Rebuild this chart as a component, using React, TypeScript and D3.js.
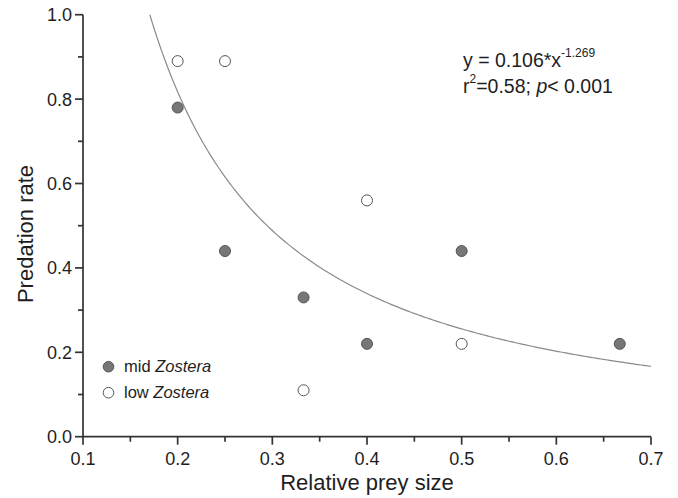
import React, { useRef, useEffect } from 'react';
import * as d3 from 'd3';

// mid Zostera (filled grey)
const midX = [0.2, 0.25, 0.333, 0.4, 0.5, 0.667];
const midY = [0.78, 0.44, 0.33, 0.22, 0.44, 0.22];
// low Zostera (open)
const lowX = [0.2, 0.25, 0.333, 0.4, 0.5];
const lowY = [0.89, 0.89, 0.11, 0.56, 0.22];

// fitted power curve y = a * x^b
const fitA = 0.106;
const fitB = -1.269;

const xTicks = [0.1, 0.2, 0.3, 0.4, 0.5, 0.6, 0.7];
const yTicks = [0.0, 0.2, 0.4, 0.6, 0.8, 1.0];

function App() {
  const svgRef = useRef<SVGSVGElement>(null);

  useEffect(() => {
    const width = 678;
    const height = 498;
    const svg = d3.select(svgRef.current).attr('width', width).attr('height', height);
    svg.selectAll('*').remove();

    const font = 'Liberation Sans, Arial, sans-serif';
    const axisColor = '#333';
    const textColor = '#1e1e1e';

    const x = d3.scaleLinear().domain([0.1, 0.7]).range([83, 651]);
    const y = d3.scaleLinear().domain([0, 1]).range([436.7, 14.7]);

    // fitted curve, from where it enters at y = 1 to the right edge
    const xStart = Math.pow(1 / fitA, 1 / fitB);
    const curveXs = d3.range(0, 201).map((i) => xStart + ((0.7 - xStart) * i) / 200);
    const line = d3
      .line<number>()
      .x((d) => x(d))
      .y((d) => y(fitA * Math.pow(d, fitB)));
    svg
      .append('path')
      .datum(curveXs)
      .attr('d', line)
      .attr('fill', 'none')
      .attr('stroke', '#8a8a8a')
      .attr('stroke-width', 1.2);

    // axes
    const xMinor = d3.range(0.15, 0.7, 0.1);
    const yMinor = d3.range(0.1, 1.0, 0.2);

    const gx = svg.append('g').attr('transform', `translate(0,${y(0)})`);
    gx.append('line')
      .attr('x1', x(0.1))
      .attr('x2', x(0.7))
      .attr('stroke', axisColor)
      .attr('stroke-width', 1.7);
    gx.selectAll('.maj')
      .data(xTicks)
      .join('line')
      .attr('x1', (d) => x(d))
      .attr('x2', (d) => x(d))
      .attr('y1', 0)
      .attr('y2', 8)
      .attr('stroke', axisColor)
      .attr('stroke-width', 1.7);
    gx.selectAll('.min')
      .data(xMinor)
      .join('line')
      .attr('x1', (d) => x(d))
      .attr('x2', (d) => x(d))
      .attr('y1', 0)
      .attr('y2', 5)
      .attr('stroke', axisColor)
      .attr('stroke-width', 1.7);
    gx.selectAll('text')
      .data(xTicks)
      .join('text')
      .attr('x', (d) => x(d))
      .attr('y', 28)
      .attr('text-anchor', 'middle')
      .attr('font-family', font)
      .attr('font-size', 18)
      .attr('fill', textColor)
      .text((d) => d.toFixed(1));

    const gy = svg.append('g').attr('transform', `translate(${x(0.1)},0)`);
    gy.append('line')
      .attr('y1', y(0))
      .attr('y2', y(1))
      .attr('stroke', axisColor)
      .attr('stroke-width', 1.7);
    gy.selectAll('.maj')
      .data(yTicks)
      .join('line')
      .attr('y1', (d) => y(d))
      .attr('y2', (d) => y(d))
      .attr('x1', 0)
      .attr('x2', -8)
      .attr('stroke', axisColor)
      .attr('stroke-width', 1.7);
    gy.selectAll('.min')
      .data(yMinor)
      .join('line')
      .attr('y1', (d) => y(d))
      .attr('y2', (d) => y(d))
      .attr('x1', 0)
      .attr('x2', -5)
      .attr('stroke', axisColor)
      .attr('stroke-width', 1.7);
    gy.selectAll('text')
      .data(yTicks)
      .join('text')
      .attr('x', -11)
      .attr('y', (d) => y(d) + 6.5)
      .attr('text-anchor', 'end')
      .attr('font-family', font)
      .attr('font-size', 18)
      .attr('fill', textColor)
      .text((d) => d.toFixed(1));

    // axis titles
    svg.append('text')
      .attr('x', 367)
      .attr('y', 490)
      .attr('text-anchor', 'middle')
      .attr('font-family', font)
      .attr('font-size', 22)
      .attr('fill', textColor)
      .text('Relative prey size');
    svg.append('text')
      .attr('transform', 'translate(33,234) rotate(-90)')
      .attr('text-anchor', 'middle')
      .attr('font-family', font)
      .attr('font-size', 22)
      .attr('fill', textColor)
      .text('Predation rate');

    // points
    const mid = midX.map((v, i) => [v, midY[i]]);
    const low = lowX.map((v, i) => [v, lowY[i]]);
    svg.selectAll('.mid')
      .data(mid)
      .join('circle')
      .attr('cx', (d) => x(d[0]))
      .attr('cy', (d) => y(d[1]))
      .attr('r', 5.5)
      .attr('fill', '#777')
      .attr('stroke', '#555')
      .attr('stroke-width', 1);
    svg.selectAll('.low')
      .data(low)
      .join('circle')
      .attr('class', 'low')
      .attr('cx', (d) => x(d[0]))
      .attr('cy', (d) => y(d[1]))
      .attr('r', 5.5)
      .attr('fill', '#fff')
      .attr('stroke', '#555')
      .attr('stroke-width', 1);

    // legend
    const legend = [
      { name: 'mid ', fill: '#777', cy: 366.7 },
      { name: 'low ', fill: '#fff', cy: 392.7 },
    ];
    legend.forEach((l) => {
      svg.append('circle')
        .attr('cx', 108.5)
        .attr('cy', l.cy)
        .attr('r', 5.3)
        .attr('fill', l.fill)
        .attr('stroke', '#555');
      const t = svg.append('text')
        .attr('x', 124)
        .attr('y', l.cy + 5)
        .attr('font-family', font)
        .attr('font-size', 16.5)
        .attr('fill', textColor);
      t.append('tspan').text(l.name);
      t.append('tspan').attr('font-style', 'italic').text('Zostera');
    });

    // equation
    const eq = svg.append('text')
      .attr('x', 463)
      .attr('y', 67)
      .attr('font-family', font)
      .attr('font-size', 19.5)
      .attr('fill', textColor);
    eq.append('tspan').text(`y = ${fitA}*x`);
    eq.append('tspan').attr('font-size', 12).attr('dy', -10.5).text(`${fitB}`);

    const r2 = svg.append('text')
      .attr('x', 463)
      .attr('y', 93)
      .attr('font-family', font)
      .attr('font-size', 19.5)
      .attr('fill', textColor);
    r2.append('tspan').text('r');
    r2.append('tspan').attr('font-size', 12).attr('dy', -10).text('2');
    r2.append('tspan').attr('dy', 10).text('=0.58; ');
    r2.append('tspan').attr('font-style', 'italic').text('p');
    r2.append('tspan').text('< 0.001');
  }, []);

  return (
    <svg
      ref={svgRef}
      style={{ position: 'absolute', left: 0, top: 0, background: '#fff' }}
    />
  );
}

export default App;
